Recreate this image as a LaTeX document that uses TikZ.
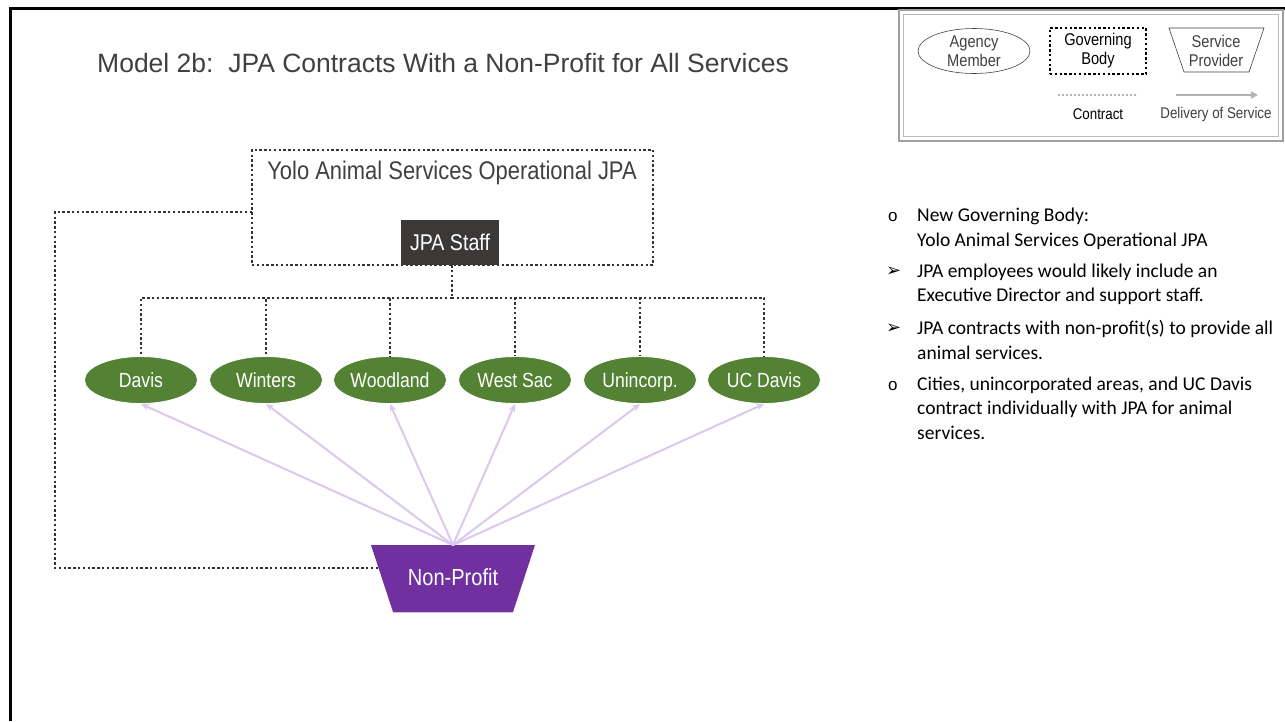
\documentclass[tikz,border=0pt]{standalone}
\usepackage{fontspec}
\setmainfont{Liberation Sans}
\newfontfamily\narrowf[FakeStretch=0.86]{Liberation Sans}
\newfontfamily\bodyf{Carlito}
\newfontfamily\symf{DejaVu Sans}
\usetikzlibrary{arrows.meta,shapes.geometric}
\definecolor{txtgray}{HTML}{404040}
\definecolor{memgreen}{HTML}{548235}
\definecolor{nppurple}{HTML}{7030A0}
\definecolor{arrpurple}{HTML}{DCC8EE}
\definecolor{staffgray}{HTML}{3B3838}
\tikzset{
  contract/.style={draw=black!80, line width=2.4pt, dash pattern=on 2.4pt off 2.4pt},
  member/.style={ellipse, fill=memgreen, draw=white, line width=0.8pt, minimum width=113pt, minimum height=47pt, inner sep=0pt, text=white, text height=16.5pt, text depth=2pt, font=\narrowf\fontsize{20.5}{23}\selectfont},
  delivery/.style={draw=arrpurple, line width=2pt, -{Stealth[length=8pt,width=7pt]}},
  bodytext/.style={anchor=west, inner sep=0pt, text=black, font=\bodyf\fontsize{19.5}{22}\selectfont},
  bul/.style={anchor=west, inner sep=0pt, text=black},
  legtext/.style={text=txtgray, font=\narrowf\fontsize{17}{19}\selectfont, align=center, inner sep=0pt},
  legsmall/.style={text=txtgray, font=\narrowf\fontsize{15.5}{17}\selectfont, inner sep=0pt}
}
\begin{document}
\begin{tikzpicture}[x=1pt,y=-1pt]
\useasboundingbox (0,0) rectangle (1285,721);
\fill[white] (0,0) rectangle (1285,721);
% outer frame
\draw[black, line width=3pt] (10,721) -- (10,8) -- (1286,8);
% title
\node[anchor=west, inner sep=0pt, text=txtgray, font=\fontsize{26.5}{30}\selectfont] (title) at (97,63) {Model 2b:\ \ JPA Contracts With a Non-Profit for All Services};
% legend
\draw[gray!75, line width=2.5pt] (899,10) rectangle (1283,141);
\draw[gray!55, line width=1pt] (903.5,14.5) rectangle (1278.5,136.5);
\node[ellipse, draw=txtgray, line width=0.6pt, minimum width=112pt, minimum height=45pt, inner sep=0pt, legtext] (lagency) at (974,51) {Agency\\Member};
\node[contract, draw=black, minimum width=96pt, minimum height=46pt, inner sep=0pt, legtext, text=black] (lgov) at (1098,51) {Governing\\Body};
\draw[txtgray, line width=0.6pt] (1169,28) -- (1264,28) -- (1249,72) -- (1184,72) -- cycle;
\node[legtext] (lserv) at (1216,51) {Service\\Provider};
\coordinate (lc1) at (1058,95); \coordinate (lc2) at (1138,95);
\draw[draw=gray!60, line width=2pt, dash pattern=on 2pt off 2pt] (lc1) -- (lc2);
\node[legsmall, text=black] (lcon) at (1098,114) {Contract};
\coordinate (ld1) at (1176,95); \coordinate (ld2) at (1258,95);
\draw[draw=gray!60, line width=2pt, -{Triangle[length=7pt,width=7pt]}] (ld1) -- (ld2);
\node[legsmall] (ldel) at (1216,114) {Delivery of Service};
% governing body
\node[contract, minimum width=401pt, minimum height=115pt, inner sep=0pt] (yolo) at (452.5,207.5) {};
\node[text=txtgray, font=\narrowf\fontsize{25.5}{28}\selectfont, inner sep=0pt] (yolotitle) at (452,172.5) {Yolo Animal Services Operational JPA};
\node[fill=staffgray, minimum width=98pt, minimum height=45pt, inner sep=0pt, text=white, font=\narrowf\fontsize{22.8}{25}\selectfont] (staff) at (450,242.5) {JPA Staff};
% members
\node[member] (davis) at (141,380) {Davis};
\node[member] (winters) at (266,380) {Winters};
\node[member] (woodland) at (390,380) {Woodland};
\node[member] (westsac) at (515,380) {West Sac};
\node[member] (unincorp) at (640,380) {Unincorp.};
\node[member] (ucdavis) at (764,380) {UC Davis};
\coordinate (bus) at (452,298);
\draw[contract] (staff.south -| bus) -- (bus);
\foreach \m in {davis,winters,woodland,westsac,unincorp,ucdavis}{
  \draw[contract] (bus) -| (\m.north);
}
% non-profit
\coordinate (nptop) at (453,545);
\coordinate (npleft) at (380,568);
\coordinate (yololeft) at (252,212);
\coordinate (c1) at (55,212);
\coordinate (c2) at (55,568);
\draw[contract] (yololeft) -- (c1) -- (c2) -- (npleft);
\fill[nppurple] (371,545) -- (535,545) -- (513,612) -- (393,612) -- cycle;
\draw[white!70!nppurple, line width=1pt] (393,612) -- (513,612);
\node[text=white, font=\narrowf\fontsize{23.3}{26}\selectfont, inner sep=0pt] (np) at (453,577) {Non-Profit};
\foreach \m in {davis,winters,woodland,westsac,unincorp,ucdavis}{
  \draw[delivery] (nptop) -- (\m.south);
}
% bullet text
\node[bul, font=\fontsize{17}{19}\selectfont] (b1) at (888,217) {o};
\node[bodytext] (t1a) at (917,216) {New Governing Body:};
\node[bodytext] (t1b) at (917,241) {Yolo Animal Services Operational JPA};
\node[bul, font=\symf\fontsize{18}{20}\selectfont] (b2) at (886,272) {➢};
\node[bodytext] (t2a) at (917,272) {JPA employees would likely include an};
\node[bodytext] (t2b) at (917,296) {Executive Director and support staff.};
\node[bul, font=\symf\fontsize{18}{20}\selectfont] (b3) at (886,329) {➢};
\node[bodytext] (t3a) at (917,329) {JPA contracts with non-profit(s) to provide all};
\node[bodytext] (t3b) at (917,353) {animal services.};
\node[bul, font=\fontsize{17}{19}\selectfont] (b4) at (888,386) {o};
\node[bodytext] (t4a) at (917,385) {Cities, unincorporated areas, and UC Davis};
\node[bodytext] (t4b) at (917,409) {contract individually with JPA for animal};
\node[bodytext] (t4c) at (917,433) {services.};
\end{tikzpicture}
\end{document}
